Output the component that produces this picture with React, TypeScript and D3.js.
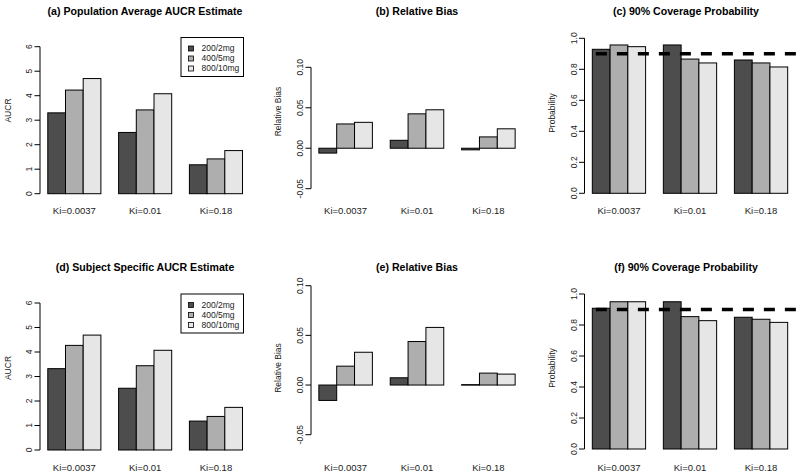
import React from 'react';
import * as d3 from 'd3';

// categorias y series
const groups = ['Ki=0.0037', 'Ki=0.01', 'Ki=0.18'];
const doses = ['200/2mg', '400/5mg', '800/10mg'];
const doseColors = ['#4D4D4D', '#AEAEAE', '#E6E6E6'];

// valores: una fila por grupo Ki, una columna por dosis
const aucrPopulation = [[3.3, 4.23, 4.7], [2.5, 3.42, 4.08], [1.18, 1.42, 1.76]];
const biasPopulation = [[-0.006, 0.03, 0.032], [0.0098, 0.0425, 0.0475], [-0.002, 0.014, 0.024]];
const coveragePopulation = [[0.929, 0.957, 0.946], [0.957, 0.866, 0.841], [0.86, 0.841, 0.815]];
const aucrSubject = [[3.32, 4.27, 4.69], [2.52, 3.44, 4.07], [1.18, 1.37, 1.74]];
const biasSubject = [[-0.0155, 0.019, 0.033], [0.0073, 0.0438, 0.058], [0.0004, 0.012, 0.011]];
const coverageSubject = [[0.908, 0.95, 0.95], [0.95, 0.854, 0.828], [0.85, 0.837, 0.817]];

const aucrTicks = [0, 1, 2, 3, 4, 5, 6];
const biasTicks = [-0.05, 0, 0.05, 0.1];
const coverageTicks = [0, 0.2, 0.4, 0.6, 0.8, 1];
const nominalCoverage = 0.9;

const FONT = '"Liberation Sans", Arial, Helvetica, sans-serif';

interface PanelProps {
  title: string;
  yLabel: string;
  values: number[][];
  ticks: number[];
  tickFormat: (v: number) => string;
  xRange: [number, number];
  yRange: [number, number];
  titlePos: [number, number];
  yLabelPos: [number, number];
  xLabelY: number;
  legend?: [number, number];
  refLine?: number;
}

const Panel: React.FC<PanelProps> = ({
  title, yLabel, values, ticks, tickFormat, xRange, yRange,
  titlePos, yLabelPos, xLabelY, legend, refLine
}) => {
  // barplot de R: ancho 1, espacio 1 antes de cada grupo, eje con 4% extra
  const x = d3.scaleLinear().domain([0.56, 12.44]).range(xRange);
  const y = d3.scaleLinear().domain([ticks[0], ticks[ticks.length - 1]]).range(yRange);
  const axisX = xRange[0];

  return (
    <g>
      <text x={titlePos[0]} y={titlePos[1]} textAnchor="middle" fontSize={10.6} fontWeight="bold" fill="#000">
        {title}
      </text>

      {values.map((row, g) => row.map((v, i) => {
        const left = g * 4 + 1 + i;
        const top = y(Math.max(v, 0));
        const bottom = y(Math.min(v, 0));
        return (
          <rect key={`${g}-${i}`} x={x(left)} y={top} width={x(left + 1) - x(left)}
            height={Math.max(bottom - top, 0.5)} fill={doseColors[i]} stroke="#000" strokeWidth={1} />
        );
      }))}

      {refLine !== undefined && (
        <line x1={x(1.2)} x2={x(12.47)} y1={y(refLine)} y2={y(refLine)}
          stroke="#000" strokeWidth={3.5} strokeDasharray="11,10" />
      )}

      {/* eje y */}
      <line x1={axisX} x2={axisX} y1={y(ticks[0])} y2={y(ticks[ticks.length - 1])} stroke="#000" />
      {ticks.map(t => (
        <g key={t}>
          <line x1={axisX - 5.5} x2={axisX} y1={y(t)} y2={y(t)} stroke="#000" />
          <text transform={`translate(${axisX - 10.5},${y(t)}) rotate(-90)`} dy="0.35em"
            textAnchor="middle" fontSize={8.5} fill="#222">{tickFormat(t)}</text>
        </g>
      ))}
      <text transform={`translate(${yLabelPos[0]},${yLabelPos[1]}) rotate(-90)`} dy="0.35em"
        textAnchor="middle" fontSize={8.5} fill="#222">{yLabel}</text>

      {groups.map((name, g) => (
        <text key={name} x={x(g * 4 + 2.5)} y={xLabelY} textAnchor="middle" fontSize={9.5} fill="#222">
          {name}
        </text>
      ))}

      {legend && (
        <g transform={`translate(${legend[0]},${legend[1]})`}>
          <rect x={0} y={0} width={62.5} height={39} fill="#fff" stroke="#000" />
          {doses.map((d, i) => (
            <g key={d}>
              <rect x={7.5} y={8.5 + i * 10} width={5} height={5} fill={doseColors[i]} stroke="#000" strokeWidth={0.8} />
              <text x={20.5} y={11 + i * 10} dy="0.35em" fontSize={8.5} fill="#222">{d}</text>
            </g>
          ))}
        </g>
      )}
    </g>
  );
};

const fmtInt = (v: number) => d3.format('d')(v);
const fmt2 = (v: number) => d3.format('.2f')(v).replace('−', '-');
const fmt1 = (v: number) => d3.format('.1f')(v);

const App: React.FC = () => {
  const width = 800;
  const height = 476;
  return (
    <svg width={width} height={height} fontFamily={FONT}
      style={{ position: 'absolute', left: 0, top: 0, background: '#fff' }}>
      <rect width={width} height={height} fill="#fff" />

      <Panel title="(a) Population Average AUCR Estimate" yLabel="AUCR" values={aucrPopulation}
        ticks={aucrTicks} tickFormat={fmtInt} xRange={[40, 250.3]} yRange={[193.7, 46.7]}
        titlePos={[145, 14.7]} yLabelPos={[8.3, 110.5]} xLabelY={214} legend={[181, 37.5]} />
      <Panel title="(b) Relative Bias" yLabel="Relative Bias" values={biasPopulation}
        ticks={biasTicks} tickFormat={fmt2} xRange={[311, 523]} yRange={[188.7, 67.3]}
        titlePos={[417, 14.7]} yLabelPos={[278.3, 111.5]} xLabelY={214} />
      <Panel title="(c) 90% Coverage Probability" yLabel="Probability" values={coveragePopulation}
        ticks={coverageTicks} tickFormat={fmt1} xRange={[584.5, 795.5]} yRange={[193.3, 38.3]}
        titlePos={[686, 14.7]} yLabelPos={[551.7, 113]} xLabelY={214} refLine={nominalCoverage} />

      <Panel title="(d) Subject Specific AUCR Estimate" yLabel="AUCR" values={aucrSubject}
        ticks={aucrTicks} tickFormat={fmtInt} xRange={[40, 250.3]} yRange={[450, 303]}
        titlePos={[145, 270.7]} yLabelPos={[8.3, 368]} xLabelY={470.7} legend={[181, 294]} />
      <Panel title="(e) Relative Bias" yLabel="Relative Bias" values={biasSubject}
        ticks={biasTicks} tickFormat={fmt2} xRange={[311, 523]} yRange={[434.7, 285.7]}
        titlePos={[417, 270.7]} yLabelPos={[278.3, 368]} xLabelY={470.7} />
      <Panel title="(f) 90% Coverage Probability" yLabel="Probability" values={coverageSubject}
        ticks={coverageTicks} tickFormat={fmt1} xRange={[584.5, 795.5]} yRange={[449, 294]}
        titlePos={[686, 270.7]} yLabelPos={[551.7, 368]} xLabelY={470.7} refLine={nominalCoverage} />
    </svg>
  );
};

export default App;
